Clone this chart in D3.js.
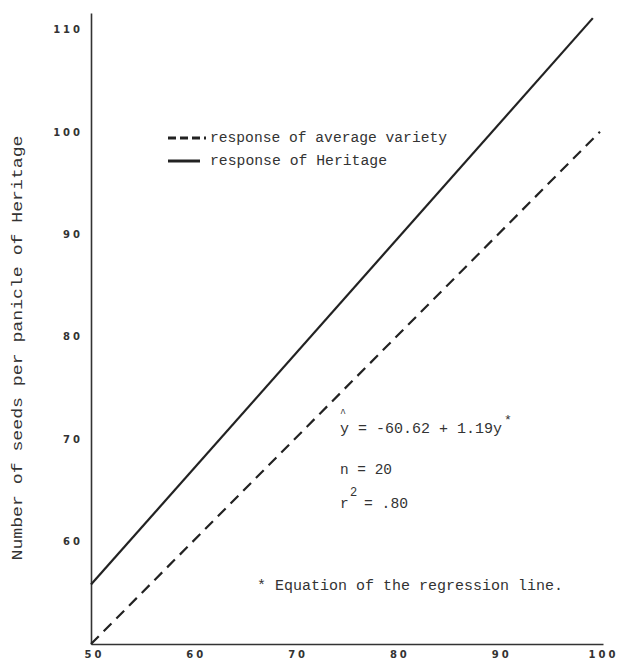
<!DOCTYPE html>
<html>
<head>
<meta charset="utf-8">
<script src="https://cdn.jsdelivr.net/npm/d3@7"></script>
<style>
  body { margin: 0; background: #fff; }
  .typed { font-family: "Liberation Mono", monospace; fill: #333; }
  .tick text { font-family: "DejaVu Sans", sans-serif; font-weight: bold; font-size: 10px; letter-spacing: 3px; fill: #333; }
</style>
</head>
<body>
<div id="chart"></div>
<script>
// values
var xTicks = [50, 60, 70, 80, 90, 100];
var yTicks = [60, 70, 80, 90, 100, 110];
var averageX = [50, 100];
var averageY = [50, 100];
var heritageX = [50, 99.3];
var heritageY = [55.8, 111.1];

var width = 617, height = 664;
var svg, xScale, yScale;

function createBaseGraph() {
    svg = d3.select("#chart")
        .append("svg")
        .attr("width", width)
        .attr("height", height);

    xScale = d3.scaleLinear().domain([50, 100.3]).range([91, 603]);
    yScale = d3.scaleLinear().domain([50, 111.6]).range([644, 13]);
}

function drawAxes() {
    var xAxis = svg.append("g")
        .attr("transform", "translate(0," + yScale(50) + ")")
        .call(d3.axisBottom(xScale).tickValues(xTicks).tickSize(0).tickPadding(7));
    var yAxis = svg.append("g")
        .attr("transform", "translate(" + xScale(50) + ",0)")
        .call(d3.axisLeft(yScale).tickValues(yTicks).tickSize(0).tickPadding(8));

    // both axis lines are plain strokes
    svg.selectAll(".domain")
        .attr("stroke", "#333")
        .attr("stroke-width", 1.6);
    xAxis.selectAll("text").attr("dx", "3px");
}

function drawLines() {
    var line = d3.line()
        .x(function (d) { return xScale(d[0]); })
        .y(function (d) { return yScale(d[1]); });

    svg.append("path")
        .datum(d3.zip(averageX, averageY))
        .attr("fill", "none")
        .attr("stroke", "#222")
        .attr("stroke-width", 2.2)
        .attr("stroke-dasharray", "11,7")
        .attr("d", line);

    svg.append("path")
        .datum(d3.zip(heritageX, heritageY))
        .attr("fill", "none")
        .attr("stroke", "#222")
        .attr("stroke-width", 2.2)
        .attr("d", line);
}

function addText(x, y, str, size, len) {
    var t = svg.append("text")
        .attr("class", "typed")
        .attr("x", x)
        .attr("y", y)
        .style("font-size", size + "px")
        .text(str);
    if (len) t.attr("textLength", len).attr("lengthAdjust", "spacingAndGlyphs");
    return t;
}

function drawLegend() {
    // dashed sample
    svg.append("line")
        .attr("x1", 168).attr("x2", 206).attr("y1", 138).attr("y2", 138)
        .attr("stroke", "#222").attr("stroke-width", 3)
        .attr("stroke-dasharray", "8,4");
    svg.append("line")
        .attr("x1", 168).attr("x2", 200).attr("y1", 161).attr("y2", 161)
        .attr("stroke", "#222").attr("stroke-width", 3);

    addText(210, 142, "response of average variety", 14.5, 237);
    addText(210, 165, "response of Heritage", 14.5, 177);
}

function drawNotes() {
    addText(340, 416, "^", 10);
    addText(340, 433, "y = -60.62 + 1.19y", 14.5, 162);
    addText(504, 424, "*", 13);
    addText(340, 474, "n = 20", 14.5, 52);
    addText(340, 508, "r", 14.5);
    addText(350, 496, "2", 12);
    addText(364, 508, "= .80", 14.5, 44);
    addText(257, 590, "* Equation of the regression line.", 14.5, 306);

    // y axis title
    svg.append("text")
        .attr("class", "typed")
        .attr("transform", "translate(22,348) rotate(-90)")
        .attr("text-anchor", "middle")
        .style("font-size", "14px")
        .attr("textLength", 425)
        .attr("lengthAdjust", "spacingAndGlyphs")
        .text("Number of seeds per panicle of Heritage");
}

createBaseGraph();
drawAxes();
drawLines();
drawLegend();
drawNotes();
</script>
</body>
</html>
